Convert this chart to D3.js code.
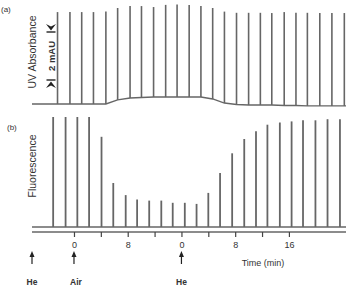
<!DOCTYPE html>
<html>
<head>
<meta charset="utf-8">
<script src="https://cdn.jsdelivr.net/npm/d3@7"></script>
<style>
  body { margin: 0; background: #fff; }
  text { font-family: "Liberation Sans", Arial, sans-serif; fill: #333; }
</style>
</head>
<body>
<div id="chart"></div>
<script>
// injection times (min, on the running clock)
var injTimes = [-3.1, -1.25, 0.5, 2.25, 4.1, 5.85, 7.7, 9.4, 11.2, 13.0, 14.7, 16.5, 18.25,
  20.0, 21.75, 23.55, 25.35, 27.1, 28.8, 30.65, 32.4, 34.1, 35.95, 37.75, 39.6];
var uvLag = 0.65; // UV detector sees each plug a bit later

// (a) UV absorbance, mAU: baseline under each peak and peak top
var uvBase = [0, 0, 0, 0, 0, 0.17, 0.25, 0.27, 0.29, 0.29, 0.29, 0.29, 0.29,
  0.21, 0.04, -0.02, -0.04, -0.04, -0.04, -0.06, -0.06, -0.08, -0.08, -0.08, -0.08];
var uvTop = [3.83, 3.83, 3.83, 3.83, 3.85, 4.0, 4.08, 4.08, 4.04, 4.13, 4.15, 4.13, 4.08,
  4.0, 3.85, 3.8, 3.8, 3.8, 3.79, 3.83, 3.8, 3.8, 3.79, 3.79, 3.79];

// (b) fluorescence, arbitrary units
var fluo = [100, 100, 100, 100, 82, 40, 29, 25, 24, 24, 22, 22, 21,
  31, 49, 67, 80, 87, 93, 95, 96, 97, 97, 98, 98];

// axis
var tickTimes = [0, 4, 8, 12, 16, 20, 24, 28, 32];
var tickLabels = ["0", "", "8", "", "0", "", "8", "", "16"];
var gasTimes = [-6.25, 0, 16];
var gasLabels = ["He", "Air", "He"];

var W = 350, H = 287;
var x0 = 32, x1 = 346;

var svg = d3.select("#chart").append("svg")
  .attr("width", W)
  .attr("height", H);

var x = d3.scaleLinear().domain([-6.25, 40.5]).range([x0, x1]);
var yA = d3.scaleLinear().domain([0, 4]).range([104, 8]);
var yB = d3.scaleLinear().domain([0, 100]).range([227, 117]);

var traceCol = "#666";

// PANEL A
var basePts = [[-6.25, 0]];
injTimes.forEach(function(t, i){ basePts.push([t + uvLag, uvBase[i]]); });
basePts.push([40.5, -0.08]);

svg.append("path")
  .attr("d", d3.line()
    .x(function(d){ return x(d[0]); })
    .y(function(d){ return yA(d[1]); })(basePts))
  .attr("fill", "none")
  .attr("stroke", traceCol)
  .attr("stroke-width", 1.4);

svg.selectAll(".uvpeak")
  .data(injTimes).enter()
  .append("line")
  .attr("class", "uvpeak")
  .attr("x1", function(d){ return x(d + uvLag); })
  .attr("x2", function(d){ return x(d + uvLag); })
  .attr("y1", function(d, i){ return yA(uvBase[i]); })
  .attr("y2", function(d, i){ return yA(uvTop[i]); })
  .attr("stroke", traceCol)
  .attr("stroke-width", 1.6);

// 2 mAU scale bar
var sbx = 51;
[1, 3].forEach(function(v, k){
  var yy = yA(v);
  svg.append("line")
    .attr("x1", sbx - 4.5).attr("x2", sbx + 4.5)
    .attr("y1", yy).attr("y2", yy)
    .attr("stroke", "#222").attr("stroke-width", 1.4);
  var dir = k === 0 ? 1 : -1; // arrows outside, pointing in
  svg.append("path")
    .attr("d", "M" + (sbx - 5) + "," + (yy + dir * 8) + "L" + sbx + "," + (yy + dir * 1.5) +
      "L" + (sbx + 5) + "," + (yy + dir * 8) + "L" + sbx + "," + (yy + dir * 5.5) + "Z")
    .attr("fill", "#222");
});
svg.append("text")
  .attr("transform", "translate(" + (sbx + 3.5) + "," + yA(2) + ") rotate(-90)")
  .attr("text-anchor", "middle")
  .attr("font-size", "9.5px")
  .attr("font-weight", "bold")
  .attr("fill", "#333")
  .text("2 mAU");

svg.append("text")
  .attr("transform", "translate(36,52) rotate(-90)")
  .attr("text-anchor", "middle")
  .attr("font-size", "10.5px")
  .text("UV Absorbance");

svg.append("text").attr("x", 1).attr("y", 12).attr("font-size", "8px").text("(a)");

// PANEL B
svg.append("line")
  .attr("x1", x0).attr("x2", x1)
  .attr("y1", yB(0)).attr("y2", yB(0))
  .attr("stroke", traceCol).attr("stroke-width", 1.4);

svg.selectAll(".flpeak")
  .data(fluo).enter()
  .append("line")
  .attr("class", "flpeak")
  .attr("x1", function(d, i){ return x(injTimes[i]); })
  .attr("x2", function(d, i){ return x(injTimes[i]); })
  .attr("y1", yB(0))
  .attr("y2", function(d){ return yB(d); })
  .attr("stroke", traceCol)
  .attr("stroke-width", 1.8);

svg.append("text")
  .attr("transform", "translate(36,166) rotate(-90)")
  .attr("text-anchor", "middle")
  .attr("font-size", "10.5px")
  .text("Fluorescence");

svg.append("text").attr("x", 7).attr("y", 130).attr("font-size", "8px").text("(b)");

// TIME AXIS
var axisY = 232;
var axis = svg.append("g")
  .attr("transform", "translate(0," + axisY + ")")
  .call(d3.axisBottom(x)
    .tickValues(tickTimes)
    .tickFormat(function(d, i){ return tickLabels[i]; })
    .tickSize(5)
    .tickPadding(5));
axis.select(".domain").attr("d", "M" + x0 + ",0H" + x1).attr("stroke", traceCol).attr("stroke-width", 1.4);
axis.selectAll(".tick line").attr("stroke", "#444").attr("stroke-width", 1.2);
axis.selectAll(".tick text").attr("font-size", "9px").attr("fill", "#333")
  .attr("font-family", "Liberation Sans, Arial, sans-serif");

svg.append("text")
  .attr("x", 263).attr("y", 266)
  .attr("text-anchor", "middle")
  .attr("font-size", "9px")
  .text("Time (min)");

// gas switch arrows
gasTimes.forEach(function(t, i){
  var ax = x(t);
  svg.append("path")
    .attr("d", "M" + (ax - 2.5) + ",257L" + ax + ",251L" + (ax + 2.5) + ",257Z")
    .attr("fill", "#222");
  svg.append("line")
    .attr("x1", ax).attr("x2", ax).attr("y1", 256).attr("y2", 264)
    .attr("stroke", "#222").attr("stroke-width", 1.2);
  svg.append("text")
    .attr("x", ax + (i === 1 ? 2 : 0)).attr("y", 285)
    .attr("text-anchor", "middle")
    .attr("font-size", "8.5px")
    .attr("font-weight", "bold")
    .attr("fill", "#444")
    .text(gasLabels[i]);
});
</script>
</body>
</html>
